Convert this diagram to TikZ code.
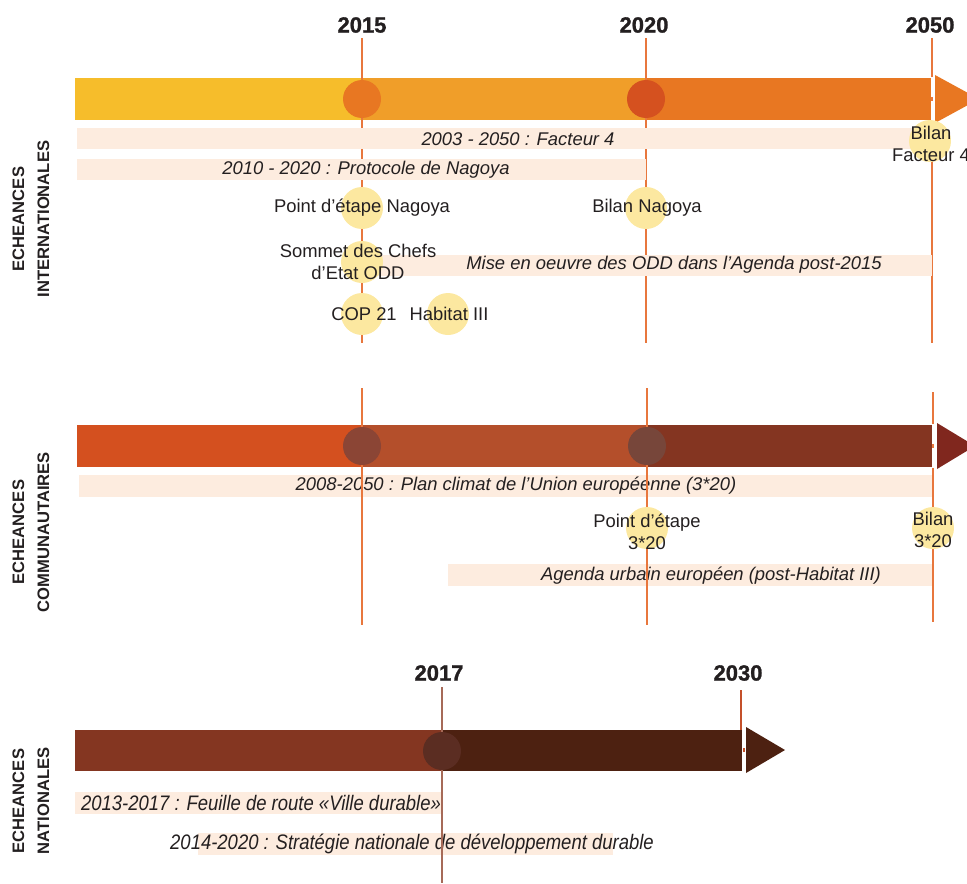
\documentclass[tikz,border=0pt]{standalone}
\usepackage{fontspec}
\setmainfont{Liberation Sans}
\newfontfamily\condfont[FakeStretch=0.88]{Liberation Sans}
\newfontfamily\yearfont[FakeBold=1.2]{Liberation Sans}
\usetikzlibrary{positioning}

\definecolor{txt}{HTML}{231F20}
\definecolor{bandc}{HTML}{FDECDF}
\definecolor{evt}{HTML}{FCE8A0}
\definecolor{tickc}{HTML}{E8773D}
\definecolor{intA}{HTML}{F6BD2B}
\definecolor{intB}{HTML}{F09E29}
\definecolor{intC}{HTML}{E87722}
\definecolor{intD}{HTML}{D5511F}
\definecolor{comA}{HTML}{D4501F}
\definecolor{comB}{HTML}{B44F2B}
\definecolor{comC}{HTML}{843521}
\definecolor{comD}{HTML}{80271E}
\definecolor{comE}{HTML}{8B4535}
\definecolor{comF}{HTML}{77463A}
\definecolor{natA}{HTML}{843621}
\definecolor{natB}{HTML}{4D2111}
\definecolor{natC}{HTML}{5B2D22}
\definecolor{natT}{HTML}{A66A58}
\definecolor{natU}{HTML}{C4502A}

\tikzstyle{year} = [font=\yearfont\bfseries\fontsize{11}{13}\selectfont, text=txt, inner sep=0pt]
\tikzstyle{yearline} = [draw=tickc, line width=0.75pt]
\tikzstyle{bandbox} = [fill=bandc]
\tikzstyle{period} = [font=\fontsize{9.2}{11}\selectfont\itshape, text=txt, inner sep=0pt]
\tikzstyle{natperiod} = [font=\condfont\itshape\fontsize{10.5}{12}\selectfont, text=txt, inner sep=0pt]
\tikzstyle{dot} = [circle, fill=evt, minimum size=21pt, inner sep=0pt]
\tikzstyle{evtext} = [font=\fontsize{9.2}{11}\selectfont, text=txt, align=center, inner sep=0pt]
\tikzstyle{knot} = [circle, minimum size=19pt, inner sep=0pt]
\tikzstyle{section} = [font=\fontsize{8.3}{12.5}\selectfont\bfseries, text=txt, rotate=90, align=center, inner sep=0pt]

\begin{document}
\begin{tikzpicture}[x=0.5pt, y=-0.5pt]
    \useasboundingbox (0,0) rectangle (967,883);

    % international timeline
    \fill[intA] (75,78) rectangle (362,120);
    \fill[intB] (362,78) rectangle (646,120);
    \fill[intC] (646,78) rectangle (931,120);
    \fill[intC] (935,75) -- (979,99) -- (935,123) -- cycle;
    \node[year] (y2015) at (362,25) {2015};
    \node[year] (y2020) at (644,25) {2020};
    \node[year] (y2050) at (930,25) {2050};
    \draw[yearline] (362,38) -- (362,343);
    \draw[yearline] (646,38) -- (646,343);
    \draw[yearline] (932,38) -- (932,77);
    \draw[yearline] (932,97) -- (932,101);
    \draw[yearline] (932,121) -- (932,343);
    \node[knot, fill=intC] (k2015) at (362,99) {};
    \node[knot, fill=intD] (k2020) at (646,99) {};

    \fill[bandbox] (77,128) rectangle (932,149);
    \node[period] (fac) at (518,139) {2003 - 2050 : Facteur 4};
    \fill[bandbox] (77,159) rectangle (646,180);
    \node[period] (nag) at (366,170) {2010 - 2020 : Protocole de Nagoya};
    \fill[bandbox] (372,255) rectangle (932,276);
    \node[period] (odd) at (674,265) {Mise en oeuvre des ODD dans l'Agenda post-2015};

    \node[dot] (pnag) at (362,208) {};
    \node[evtext] (pnagt) at (pnag) {Point d'étape Nagoya};
    \node[dot] (bnag) at (646,208) {};
    \node[evtext] (bnagt) at (647,208) {Bilan Nagoya};
    \node[dot] (sodd) at (362,262) {};
    \node[evtext] (soddt) at (358,262) {Sommet des Chefs\\d'Etat ODD};
    \node[dot] (cop) at (362,314) {};
    \node[evtext] (copt) at (364,314) {COP 21};
    \node[dot] (hab) at (448,314) {};
    \node[evtext] (habt) at (449,314) {Habitat III};
    \node[dot] (bfac) at (930,141) {};
    \node[evtext] (bfact) at (931,144) {Bilan\\Facteur 4};

    \node[section] (intl) at (31,219) {ECHEANCES\\INTERNATIONALES};

    % community timeline
    \fill[comA] (77,425) rectangle (362,467);
    \fill[comB] (362,425) rectangle (647,467);
    \fill[comC] (647,425) rectangle (932,467);
    \fill[comD] (937,423) -- (975,446) -- (937,469) -- cycle;
    \fill[bandbox] (79,475) rectangle (932,497);
    \node[period] (clim) at (516,486) {2008-2050 : Plan climat de l'Union européenne (3*20)};
    \fill[bandbox] (448,564) rectangle (932,586);
    \node[period] (agen) at (711,576) {Agenda urbain européen (post-Habitat III)};
    \draw[yearline] (362,388) -- (362,625);
    \draw[yearline] (647,388) -- (647,625);
    \draw[yearline] (933,392) -- (933,424);
    \draw[yearline] (933,444) -- (933,448);
    \draw[yearline] (933,468) -- (933,622);
    \node[knot, fill=comE] (c2015) at (362,446) {};
    \node[knot, fill=comF] (c2020) at (647,446) {};

    \node[dot] (p320) at (647,528) {};
    \node[evtext] (p320t) at (647,532) {Point d'étape\\3*20};
    \node[dot] (b320) at (933,528) {};
    \node[evtext] (b320t) at (933,530) {Bilan\\3*20};

    \node[section] (comm) at (31,532) {ECHEANCES\\COMMUNAUTAIRES};

    % national timeline
    \fill[natA] (75,730) rectangle (442,771);
    \fill[natB] (442,730) rectangle (742,771);
    \fill[natB] (746,727) -- (785,750) -- (746,773) -- cycle;
    \node[year] (y2017) at (439,673) {2017};
    \node[year] (y2030) at (738,673) {2030};
    \fill[bandbox] (75,792) rectangle (442,814);
    \node[natperiod] (vill) at (261,803) {2013-2017 : Feuille de route «Ville durable»};
    \fill[bandbox] (198,833) rectangle (613,855);
    \node[natperiod] (sndd) at (412,844) {2014-2020 : Stratégie nationale de développement durable};
    \draw[yearline, draw=natT] (442,687) -- (442,883);
    \draw[yearline, draw=natU] (741,690) -- (741,730);
    \draw[yearline, draw=natU] (744,748) -- (744,752);
    \node[knot, fill=natC] (n2017) at (442,751) {};

    \node[section] (natl) at (31,801) {ECHEANCES\\NATIONALES};
\end{tikzpicture}
\end{document}
